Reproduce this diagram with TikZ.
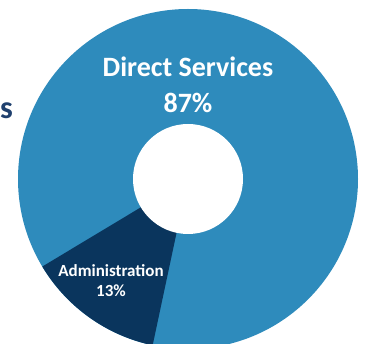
\documentclass[tikz,border=0pt]{standalone}
\usepackage{fontspec}
\setmainfont{Carlito}
\newlength{\du}
\setlength{\du}{1pt}
\tikzset{
  bigtext/.style={text=white,font=\bfseries\fontsize{28}{28}\selectfont,inner sep=0pt,anchor=base},
  smalltext/.style={text=white,font=\bfseries\fontsize{17}{17}\selectfont,inner sep=0pt,anchor=base}
}

\begin{document}
\begin{tikzpicture}
\pgftransformxscale{1.000000}
\pgftransformyscale{-1.000000}
\useasboundingbox (0\du,0\du) rectangle (367\du,344\du);
\clip (0\du,0\du) rectangle (367\du,344\du);
\coordinate (center) at (188.000000\du,179.000000\du);
% ring
\definecolor{dialinecolor}{rgb}{0.180000, 0.545000, 0.737000}
\pgfsetfillcolor{dialinecolor}
\fill (center) circle (170.000000\du);
\definecolor{dialinecolor}{rgb}{0.039000, 0.208000, 0.365000}
\pgfsetfillcolor{dialinecolor}
\fill (center) -- ++(102:170.000000\du) arc[start angle=102,end angle=149,radius=170.000000\du] -- cycle;
\definecolor{dialinecolor}{rgb}{1.000000, 1.000000, 1.000000}
\pgfsetfillcolor{dialinecolor}
\fill (center) circle (55.000000\du);
% labels
\node[bigtext] (direct) at (188.000000\du,77.000000\du){Direct Services};
\node[bigtext] (directpct) at (188.000000\du,113.000000\du){87\%};
\node[smalltext] (admin) at (111.000000\du,276.500000\du){Administration};
\node[smalltext] (adminpct) at (111.000000\du,297.000000\du){13\%};
\definecolor{dialinecolor}{rgb}{0.122000, 0.251000, 0.431000}
\node[text=dialinecolor,font=\bfseries\fontsize{32}{32}\selectfont,inner sep=0pt,anchor=base west] (word) at (0.000000\du,119.000000\du){s};
\end{tikzpicture}
\end{document}
